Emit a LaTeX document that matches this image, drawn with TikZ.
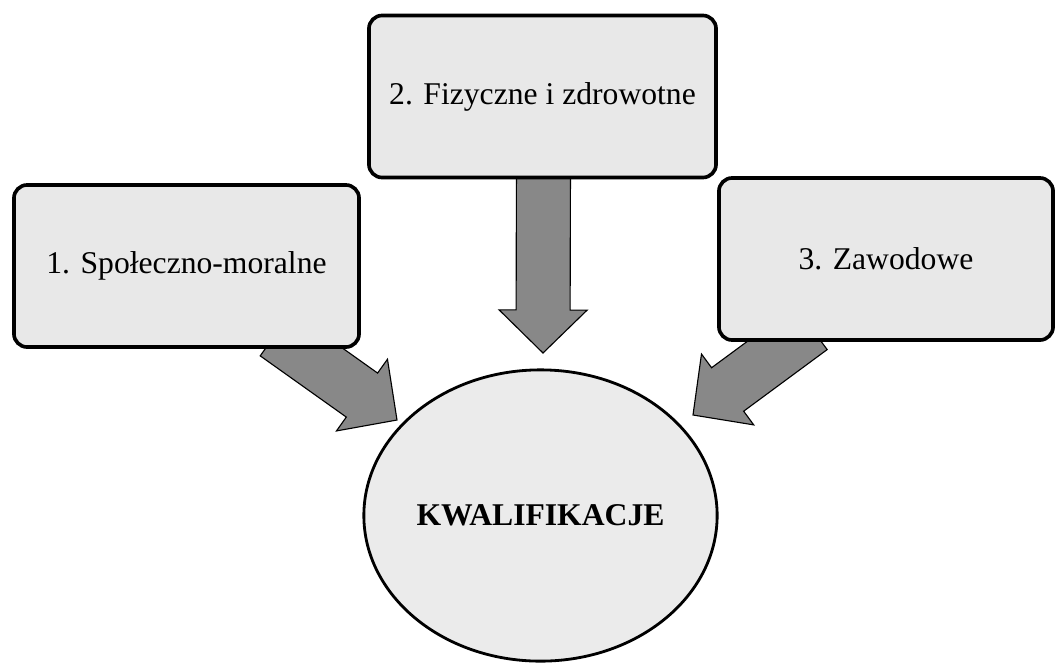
\documentclass[tikz,border=0pt]{standalone}
\usepackage{fontspec}
\setmainfont{Liberation Serif}
\usepackage{tikz}
\usetikzlibrary{calc}
\usetikzlibrary{shapes.geometric}

\pgfdeclarelayer{bg}
\pgfsetlayers{bg,main}

\definecolor{boxgray}{HTML}{E8E8E8}
\definecolor{ovalgray}{HTML}{EBEBEB}
\definecolor{arrowgray}{HTML}{888888}

\tikzset{
  kbox/.style={draw, line width=2.6pt, rounded corners=0.33cm, fill=boxgray,
    minimum height=4.05cm, inner sep=0pt, align=center},
  koval/.style={ellipse, draw, line width=2pt, fill=ovalgray, inner sep=0pt,
    minimum width=8.83cm, minimum height=7.28cm},
  fatarrow/.style={draw, line width=0.8pt, fill=arrowgray, line join=miter}
}

% broad arrow from #1 to #2
\newcommand{\fatarrow}[2]{%
  \coordinate (h) at ($(#2)!1.075cm!(#1)$);
  \draw[fatarrow] ($(#1)!0.675cm!90:(#2)$) -- ($(h)!0.675cm!90:(#2)$)
    -- ($(h)!1.1cm!90:(#2)$) -- (#2) -- ($(h)!1.1cm!-90:(#2)$)
    -- ($(h)!0.675cm!-90:(#2)$) -- ($(#1)!0.675cm!-90:(#2)$) -- cycle;
}

\begin{document}
\begin{tikzpicture}[x=0.025cm, y=-0.025cm, font=\fontsize{22.5}{27}\selectfont]
  \useasboundingbox (0,0) rectangle (1058,666);

  % Define nodes
  \node[kbox, minimum width=8.625cm] (spol) at (186.5,266) {1. Społeczno-moralne};
  \node[kbox, minimum width=8.675cm] (fiz)  at (542.5,96.5) {2. Fizyczne i zdrowotne};
  \node[kbox, minimum width=8.35cm]  (zaw)  at (886,259) {3. Zawodowe};
  \node[koval] (kwal) at (540.5,515.5) {\textbf{KWALIFIKACJE}};

  % Arrow tips
  \coordinate (tspol) at (397,420);
  \coordinate (tfiz)  at (543,353);
  \coordinate (tzaw)  at (693,415);

  % Connect the nodes
  \begin{pgfonlayer}{bg}
    \fatarrow{$(spol.south east)+(-85,-15)$}{tspol}
    \fatarrow{$(fiz.south)+(1,-20)$}{tfiz}
    \fatarrow{$(zaw.south west)+(94,-14)$}{tzaw}
  \end{pgfonlayer}
\end{tikzpicture}
\end{document}
